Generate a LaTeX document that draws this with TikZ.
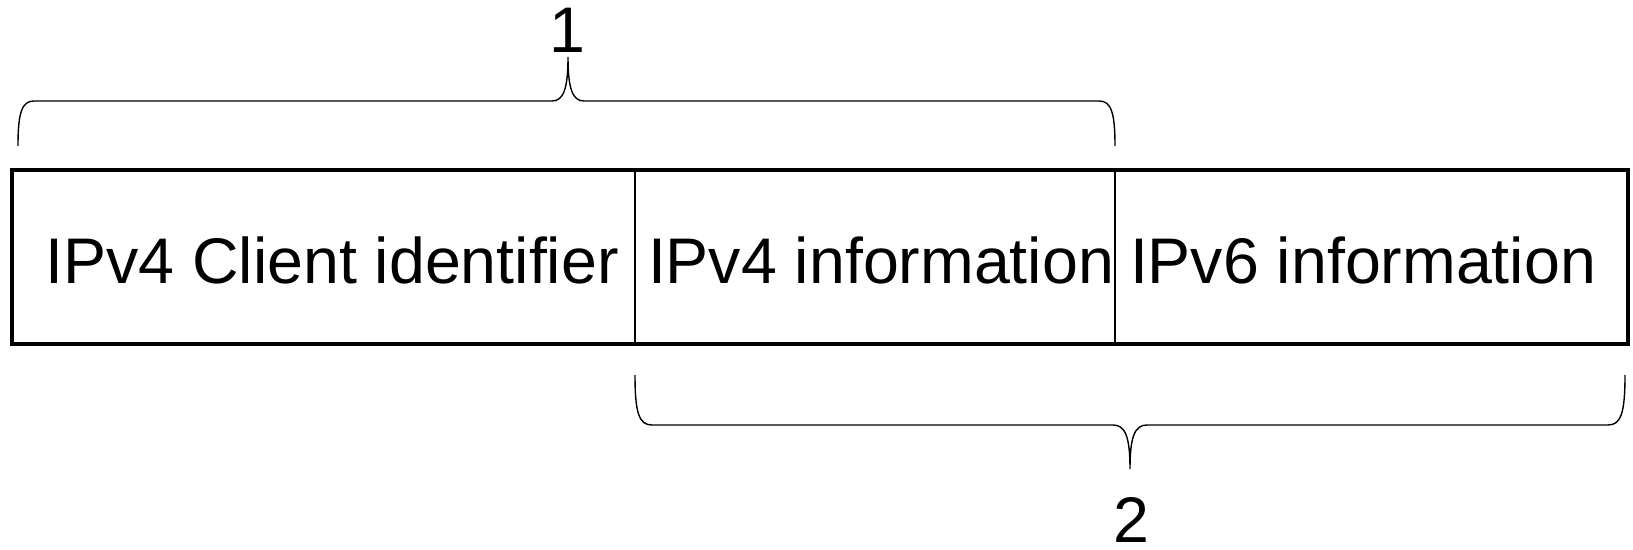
\documentclass[tikz,border=0pt]{standalone}
\usepackage{fontspec}
\setmainfont{Liberation Sans}
\usetikzlibrary{positioning}

\begin{document}
\begin{tikzpicture}[x=0.02cm, y=-0.02cm, field/.style={font=\fontsize{36.7}{40}\selectfont},
  num/.style={font=\fontsize{36.7}{40}\selectfont, inner sep=0pt}, brace/.style={line width=0.8pt}]
  \useasboundingbox (0,0) rectangle (1633,550);
  % fields
  \draw[line width=0.8pt] (635,170) -- (635,344);
  \draw[line width=0.8pt] (1115,170) -- (1115,344);
  \draw[line width=2.8pt] (12,170) rectangle (1628,344);
  \node[field] (client) at (332,260) {IPv4 Client identifier};
  \node[field] (v4info) at (881,260) {IPv4 information};
  \node[field] (v6info) at (1363,260) {IPv6 information};
  % brace 1 over the first two fields
  \draw[brace] (18,146) .. controls (18,112) and (22,101) .. (34,101) -- (552,101)
    .. controls (563,101) and (568,90) .. (568,57)
    .. controls (568,90) and (573,101) .. (584,101) -- (1099,101)
    .. controls (1111,101) and (1115,112) .. (1115,146);
  \node[num] (one) at (567,30) {1};
  % brace 2 under the last two fields
  \draw[brace] (635,375) .. controls (635,413) and (639,425) .. (652,425) -- (1113,425)
    .. controls (1125,425) and (1130,436) .. (1130,469)
    .. controls (1130,436) and (1135,425) .. (1147,425) -- (1608,425)
    .. controls (1621,425) and (1625,413) .. (1625,375);
  \node[num] (two) at (1131,520) {2};
\end{tikzpicture}
\end{document}
